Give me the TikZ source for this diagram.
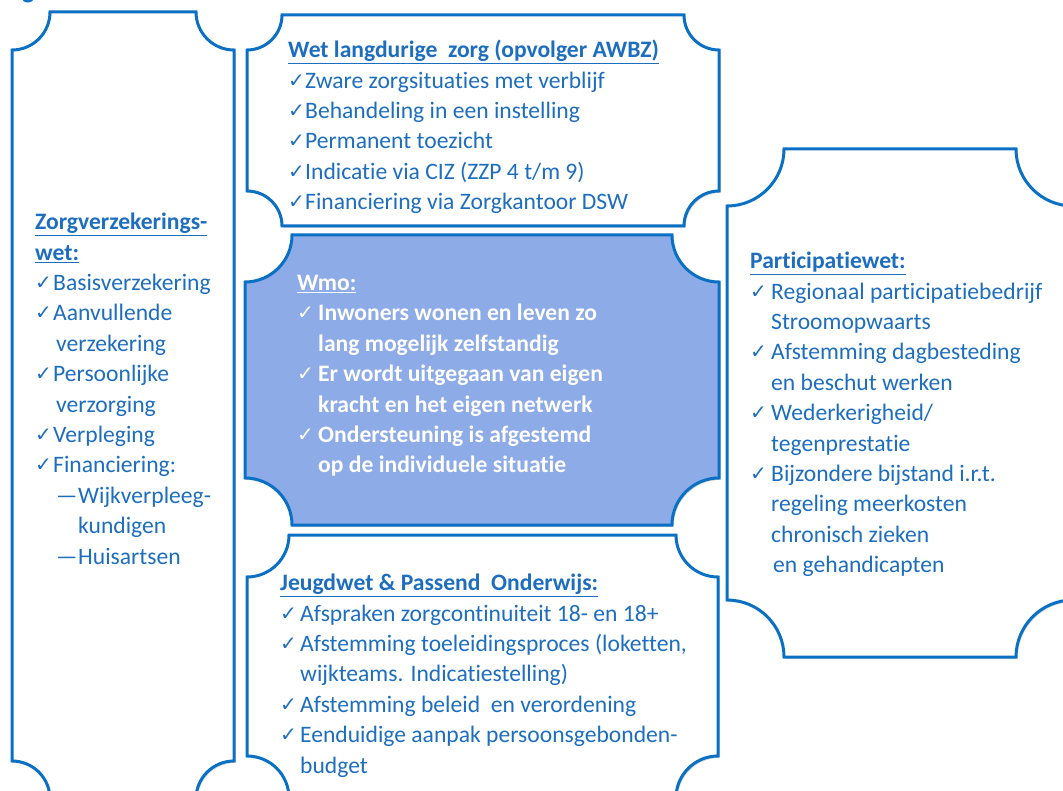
\documentclass[tikz,border=0pt]{standalone}
\usepackage{fontspec}
\setmainfont{Carlito}[Ligatures={CommonOff}]
\newfontfamily\symfont{DejaVu Sans}
\usetikzlibrary{shadows}
\definecolor{edge}{HTML}{0A70C4}
\definecolor{ink}{HTML}{1E6EC0}
\definecolor{wmofill}{HTML}{8DABE6}
\tikzset{
  plaque/.style={draw=edge, line width=3pt, fill=white, line join=miter,
    drop shadow={opacity=0.3, shadow xshift=1.5pt, shadow yshift=-2pt}},
  plaquefill/.style={plaque, fill=wmofill},
  boxtext/.style={anchor=north west, inner sep=0pt, align=left, text=ink,
    font=\fontsize{23.6}{30.4}\selectfont, execute at begin node={\rule{0pt}{18pt}}},
  wmotext/.style={boxtext, text=white, font=\fontsize{23.6}{30.4}\selectfont\bfseries},
  frag/.style={anchor=base west, inner sep=0pt, text=edge, font=\fontsize{26}{26}\selectfont\bfseries}
}
% plaque: concave corners, args x1,y1,x2,y2,r (y downwards)
\newcommand{\plaque}[6][plaque]{%
  \draw[#1] (#2+#6,#3) -- (#4-#6,#3) arc[start angle=180,end angle=270,radius=#6pt]
    -- (#4,#5-#6) arc[start angle=90,end angle=180,radius=#6pt]
    -- (#2+#6,#5) arc[start angle=0,end angle=90,radius=#6pt]
    -- (#2,#3+#6) arc[start angle=270,end angle=360,radius=#6pt] -- cycle;}
\newcommand{\chk}[1][20pt]{\makebox[#1][l]{\raisebox{1pt}{\symfont\fontsize{20}{20}\selectfont ✓}}}
\newcommand{\ttl}[1]{\textbf{\underline{#1}}}

\begin{document}
\begin{tikzpicture}[x=1pt, y=-1pt]
  \useasboundingbox (0,0) rectangle (1063,791);
  \node[frag] (g) at (22,-1) {g};

  % the five plaques
  \plaque{12}{12}{234}{799}{38}
  \plaque{727}{149}{1073}{657}{57}
  \plaque{247}{15}{719}{226}{35}
  \plaque[plaquefill]{245}{235}{719}{525}{47}
  \plaque{247}{535}{718}{798}{42}

  \node[boxtext] (zvw) at (35,213) {\ttl{Zorgverzekerings-}\\
    \ttl{wet:}\\
    \chk[18pt]Basisverzekering\\
    \chk[18pt]Aanvullende\\
    \hspace*{21pt}verzekering\\
    \chk[18pt]Persoonlijke\\
    \hspace*{21pt}verzorging\\
    \chk[18pt]Verpleging\\
    \chk[18pt]Financiering:\\
    \hspace*{21pt}\makebox[22pt][l]{—}Wijkverpleeg-\\
    \hspace*{43pt}kundigen\\
    \hspace*{21pt}\makebox[22pt][l]{—}Huisartsen};

  \node[boxtext] (wlz) at (288,40) {\ttl{Wet langdurige\ \ zorg (opvolger AWBZ)}\\
    \chk[17pt]Zware zorgsituaties met verblijf\\
    \chk[17pt]Behandeling in een instelling\\
    \chk[17pt]Permanent toezicht\\
    \chk[17pt]Indicatie via CIZ (ZZP 4 t/m 9)\\
    \chk[17pt]Financiering via Zorgkantoor DSW};

  \node[wmotext] (wmo) at (297,275) {\ttl{Wmo:}\\
    \chk[21pt]Inwoners wonen en leven zo\\
    \hspace*{21pt}lang mogelijk zelfstandig\\
    \chk[21pt]Er wordt uitgegaan van eigen\\
    \hspace*{21pt}kracht en het eigen netwerk\\
    \chk[21pt]Ondersteuning is afgestemd\\
    \hspace*{21pt}op de individuele situatie};

  \node[boxtext] (pw) at (750,252) {\ttl{Participatiewet:}\\
    \chk[21pt]Regionaal participatiebedrijf\\
    \hspace*{21pt}Stroomopwaarts\\
    \chk[21pt]Afstemming dagbesteding\\
    \hspace*{21pt}en beschut werken\\
    \chk[21pt]Wederkerigheid/\\
    \hspace*{21pt}tegenprestatie\\
    \chk[21pt]Bijzondere bijstand i.r.t.\\
    \hspace*{21pt}regeling meerkosten\\
    \hspace*{21pt}chronisch zieken\\
    \hspace*{23pt}en gehandicapten};

  \node[boxtext] (jw) at (280,574) {\ttl{Jeugdwet \& Passend\ \ Onderwijs:}\\
    \chk[20pt]Afspraken zorgcontinuiteit 18- en 18+\\
    \chk[20pt]Afstemming toeleidingsproces (loketten,\\
    \hspace*{20pt}wijkteams. Indicatiestelling)\\
    \chk[20pt]Afstemming beleid\ \ en verordening\\
    \chk[20pt]Eenduidige aanpak persoonsgebonden-\\
    \hspace*{20pt}budget};
\end{tikzpicture}
\end{document}
